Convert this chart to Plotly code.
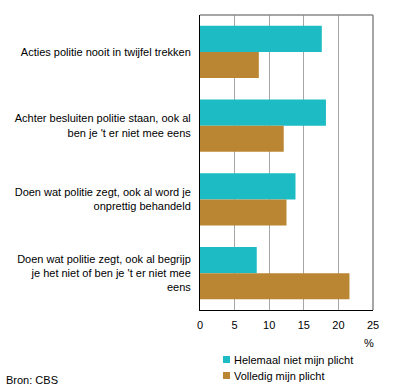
import plotly.graph_objects as go

categories = [
    "Acties politie nooit in twijfel trekken",
    "Achter besluiten politie staan, ook al<br>ben je 't er niet mee eens",
    "Doen wat politie zegt, ook al word je<br>onprettig behandeld",
    "Doen wat politie zegt, ook al begrijp<br>je het niet of ben je 't er niet mee<br>eens",
]
series_names = ["Helemaal niet mijn plicht", "Volledig mijn plicht"]
helemaal_niet = [17.6, 18.2, 13.8, 8.2]
volledig = [8.5, 12.1, 12.5, 21.6]
x_ticks = [0, 5, 10, 15, 20, 25]

TEAL = "#1DBBC4"
BROWN = "#BB8633"
FONT = "Liberation Sans, Arial, sans-serif"

fig = go.Figure()
fig.add_trace(go.Bar(y=categories, x=helemaal_niet, orientation="h",
                     name=series_names[0], marker=dict(color=TEAL, line=dict(width=0))))
fig.add_trace(go.Bar(y=categories, x=volledig, orientation="h",
                     name=series_names[1], marker=dict(color=BROWN, line=dict(width=0))))

fig.update_layout(
    width=396, height=391,
    margin=dict(l=200, r=23, t=15, b=81),
    paper_bgcolor="white", plot_bgcolor="white",
    barmode="group", bargap=0.29, bargroupgap=0,
    showlegend=False,
    font=dict(family=FONT, size=11, color="black"),
    xaxis=dict(range=[0, 25], tickvals=x_ticks, showgrid=True, gridcolor="#A6A6A6",
               gridwidth=1, showline=True, linecolor="black", linewidth=1,
               ticks="outside", ticklen=5, tickcolor="rgba(0,0,0,0)",
               zeroline=False, mirror=False, fixedrange=True),
    yaxis=dict(autorange="reversed", showline=True, linecolor="black", linewidth=1,
               ticks="outside", ticklen=6, tickcolor="rgba(0,0,0,0)", showgrid=False,
               fixedrange=True),
    shapes=[
        dict(type="line", xref="paper", yref="paper", x0=0, x1=1, y0=1, y1=1,
             line=dict(color="#888888", width=1.5)),
        dict(type="line", xref="paper", yref="paper", x0=1, x1=1, y0=0, y1=1,
             line=dict(color="#888888", width=1.5)),
        dict(type="rect", xref="paper", yref="paper", x0=23/173, x1=30/173,
             y0=-46/295, y1=-53/295, fillcolor=TEAL, line=dict(width=0)),
        dict(type="rect", xref="paper", yref="paper", x0=23/173, x1=30/173,
             y0=-62/295, y1=-69/295, fillcolor=BROWN, line=dict(width=0)),
    ],
    annotations=[
        dict(text="%", xref="paper", yref="paper", x=169/173, y=-33/295, xanchor="center",
             yanchor="middle", showarrow=False),
        dict(text=series_names[0], xref="paper", yref="paper", x=32/173, y=-49.5/295,
             xanchor="left", yanchor="middle", showarrow=False),
        dict(text=series_names[1], xref="paper", yref="paper", x=32/173, y=-65.5/295,
             xanchor="left", yanchor="middle", showarrow=False),
        dict(text="Bron: CBS", xref="paper", yref="paper", x=-196/173, y=-70/295,
             xanchor="left", yanchor="middle", showarrow=False),
    ],
)

fig.write_html("out.html", config={"displayModeBar": False},
               post_script="document.body.style.margin='0';document.body.style.overflow='hidden';")
